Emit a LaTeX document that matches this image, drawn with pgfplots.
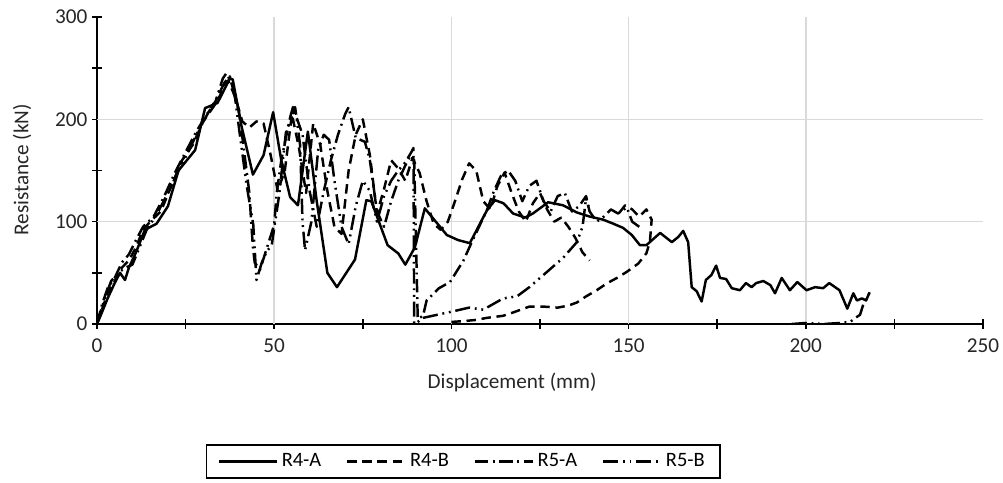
\documentclass[border=0pt]{standalone}
\usepackage{fontspec}
\setmainfont{Carlito}
\usepackage{pgfplots}
\pgfplotsset{compat=1.18}
\newcommand{\lbl}{\fontsize{11.2}{13}\selectfont}
\newcommand{\lgd}{\fontsize{10.8}{12.5}\selectfont}
\begin{document}
\begin{tikzpicture}
\begin{axis}[
  name=ax,
  scale only axis, width=468.2pt, height=162.2pt,
  xmin=0, xmax=250, ymin=0, ymax=300,
  axis x line*=bottom, axis y line*=left,
  axis line style={-, black, line width=0.8pt},
  xtick={0,50,...,250}, minor xtick={25,75,...,225},
  ytick={0,100,200,300}, minor ytick={50,150,250},
  tick align=center, major tick length=5pt, minor tick length=5pt,
  tick style={black, line width=0.8pt},
  extra x ticks={50,100,150,200}, extra x tick labels={},
  extra x tick style={grid=major, major tick length=0pt},
  extra y ticks={100,200}, extra y tick labels={},
  extra y tick style={grid=major, major tick length=0pt},
  major grid style={draw=black!15, line width=0.8pt},
  /pgf/number format/assume math mode=true,
  ticklabel style={font=\lbl, text=black!85},
  xticklabel style={yshift=-1.5pt},
  yticklabel style={xshift=1pt},
  xlabel={Displacement (mm)}, ylabel={Resistance (kN)},
  label style={font=\lbl, text=black!85},
  xlabel style={at={(axis description cs:0.4685,-0.189)}, anchor=center},
  ylabel style={at={(axis description cs:-0.0846,0.502)}, anchor=center},
  unbounded coords=jump,
  legend columns=4,
  legend image code/.code={\draw[#1] (0pt,0pt) -- (30.6pt,0pt);},
  legend style={at={(0.4132,-0.448)}, anchor=center, font=\lgd,
    draw=black, line width=0.8pt, inner xsep=6pt, inner ysep=2.5pt,
    /tikz/every even column/.append style={column sep=11pt}},
  every axis plot/.append style={line width=1.3pt, black, line join=round},
]
% R4-A solid
\addplot[solid] coordinates {
(0,0) (1,8) (3,25) (5,40) (6.5,50) (7.9,43) (9,55) (11,70) (13.5,92) (16.8,98)
(20,115) (23,150) (27.7,170) (30.5,211) (34,216) (37.5,240) (38.3,239) (40.8,193)
(44,146) (47,165) (49.7,207) (52,160) (54.5,124) (56.7,116) (59.5,188) (62,120)
(65,50) (67.7,36) (72.8,63) (76,121) (77.4,120) (82,77) (85,69) (87,58) (89.7,75)
(92.5,113) (98.7,87) (101.9,82) (105.2,79) (110,111) (112.3,121) (114.7,118)
(117.4,108) (120.8,104) (123,108) (127.3,119) (131.5,116) (135.4,109) (139,105)
(142.8,102) (145.7,98) (148.4,94) (150.9,87) (153.2,77) (155,77) (158.9,89)
(162.2,80) (164,85) (165.4,91) (166.8,80) (167.8,36) (169.2,32) (170.6,22)
(171.8,43) (173.4,48) (174.7,57) (175.8,45) (177.5,44) (179.1,35) (181.4,33)
(183.1,40) (184.7,36) (186,40) (188,42) (190,38) (191.3,30) (193.2,45) (195.5,33)
(197.6,41) (200.2,33) (202.6,36) (204.9,35) (206.6,40) (209.5,33) (211.7,15)
(213.4,30) (214.4,23) (215.8,25) (217,23) (218,31)
};
% R4-B dashed
\addplot[dash pattern=on 5pt off 3pt] coordinates {
(0,0) (1,10) (3,30) (5,42) (7,55) (9,62) (11,75) (13,92) (15,100) (18,110)
(21,135) (24,160) (27,175) (30,198) (33,213) (35,225) (37,238) (39,222) (41,198)
(43,192) (45,198) (47,196) (49,165) (51,130) (53,150) (55,205) (57,172) (59,128)
(61,196) (63,175) (65,130) (67,95) (69,88) (71,150) (73,185) (75,200) (77,165)
(79,108) (81,132) (83,160) (85,152) (87,140) (89,162) (91,148) (93,120) (95,98)
(97,92) (99,100) (101,120) (103,141) (105,157) (107,150) (109,120) (111,112)
(113,135) (115,148) (117,128) (119,110) (121,100) (123,118) (125,128) (127,112)
(129,100) (131,104) (133,95) (135,84) (137,70) (139,62)
(139,nan)
(100,2) (104,3) (107,4) (110,6) (114.6,8) (118,12) (122,17) (126,17) (130,16)
(133,18) (135.4,21) (138,27) (141,33) (144,40) (146.7,45) (149.5,51) (152.7,59)
(155,69) (156,80) (156.5,102) (155,112) (153,105) (151,112) (149,116) (147,107)
};
% R5-A dash-dot
\addplot[dash pattern=on 7pt off 2.5pt on 1pt off 2.5pt] coordinates {
(0,0) (1.5,20) (3,35) (5,45) (7,60) (9,68) (11,82) (13,95) (16,105) (19,125)
(22,148) (25,168) (28,188) (31,205) (33.5,218) (35.5,240) (36.5,245) (38,235)
(40,208) (41,183) (43,128) (43.5,100) (44,75) (44.5,60) (46,53) (50,97)
(50.7,128) (52,160) (54.5,202) (55.3,212) (58,185) (60,130) (62,95) (64,130)
(66,160) (68,185) (70,205) (71,212) (73,182) (75.6,178) (77,160) (79,110)
(81,95) (83,120) (85,140) (87,155) (88.5,165) (89.5,160) (90.5,5) (92,8) (93,23)
(96.5,35) (99.6,41) (103.4,62) (106,82) (110,111) (112,130) (114,145) (116,150)
(118,140) (120,120) (122,135) (124,140) (126,120) (128,110) (130,125) (132,128)
(134,110) (136,115) (138,125) (139,110)
};
% R5-B long dash dot dot
\addplot[dash pattern=on 8pt off 2.5pt on 1pt off 2.5pt on 1pt off 2.5pt] coordinates {
(0,0) (1,12) (2.5,28) (4,42) (6,50) (8,55) (10,58) (12,75) (14,92) (17,108)
(20,128) (23,150) (26,170) (29,192) (32,210) (34,222) (36,236) (37.5,242)
(39,220) (40.5,180) (42.2,136) (44.1,97) (45,43) (46.5,60) (47.9,71) (49.3,77)
(51.4,126) (53.3,187) (55.9,212) (57.3,175) (58,100) (58.7,72) (60.5,100)
(62.4,170) (64,185) (65.5,180) (67,140) (69,95) (71,78) (73,115) (75,140)
(77,130) (79,100) (81,125) (83,140) (85,150) (87,158) (88.7,168) (89.3,172)
(89.5,0) (90.5,2) (92,6) (96,9) (100,12) (105,16) (109,14) (114.6,25)
(118.5,27) (122,36) (127,51) (131.6,65) (135.4,80) (137,95) (138,123) (139,110)
(141,100) (143,105) (145,112) (147,108) (149.5,114) (151,100) (153,95)
(153,nan)
(196,0) (200,1) (205,0) (209.7,1) (212.5,2) (214,6) (215.3,9) (216.2,19)
(217.5,27) (218,31)
};
\legend{R4-A,R4-B,R5-A,R5-B}
\end{axis}
\pgfresetboundingbox
\path[use as bounding box] ([shift={(-51.25pt,-84pt)}]ax.south west) rectangle ++(530pt,255.2pt);
\end{tikzpicture}
\end{document}
